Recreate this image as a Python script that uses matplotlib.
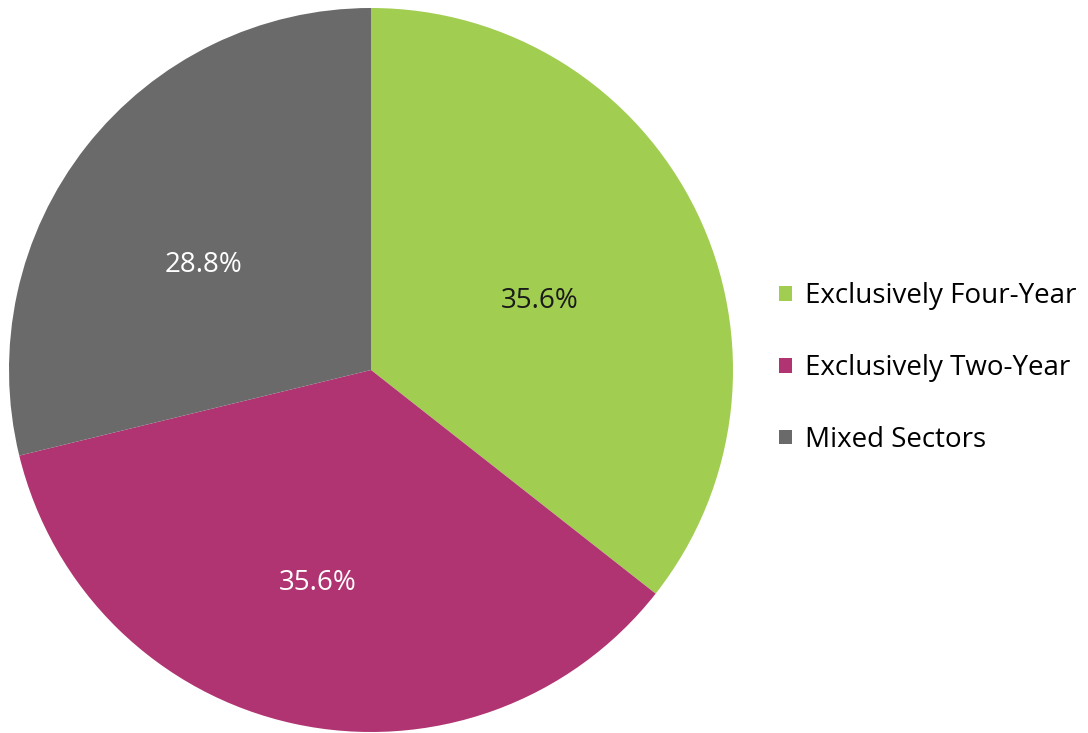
import matplotlib
matplotlib.use("Agg")
import matplotlib.pyplot as plt

# Share of students by sector enrollment pattern
labels = ["Exclusively Four-Year", "Exclusively Two-Year", "Mixed Sectors"]
shares = [35.6, 35.6, 28.8]
colors = ["#A1CD51", "#B03472", "#6A6A6A"]
label_colors = ["#1a1a1a", "white", "white"]

plt.rcParams["font.family"] = ["Open Sans", "DejaVu Sans"]

fig = plt.figure(figsize=(10.88, 7.33), dpi=100)
ax = fig.add_axes([9 / 1088, 1 / 733, 724 / 1088, 724 / 733])

wedges, texts, autotexts = ax.pie(
    shares,
    colors=colors,
    startangle=90,
    counterclock=False,
    autopct="%.1f%%",
    pctdistance=0.55,
    wedgeprops={"linewidth": 0},
    textprops={"fontsize": 20},
)
# nudge the percent labels a bit down-left, like the original
for t, c in zip(autotexts, label_colors):
    t.set_color(c)
    x, y = t.get_position()
    t.set_position((x - 0.03, y - 0.05))
ax.set_xlim(-1, 1)
ax.set_ylim(-1, 1)
ax.set_aspect("equal")

fig.legend(
    wedges,
    labels,
    loc="center left",
    bbox_to_anchor=(754 / 1088, 1 - 368 / 733),
    frameon=False,
    fontsize=20,
    handlelength=0.45,
    handleheight=0.45,
    handletextpad=0.5,
    labelspacing=1.58,
)

fig.savefig("out.png", dpi=100)
